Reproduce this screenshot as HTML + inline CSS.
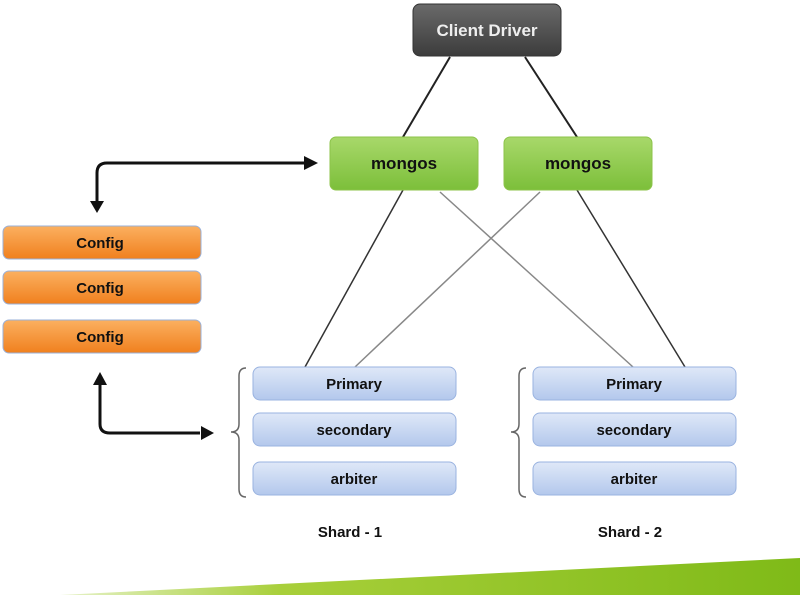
<!DOCTYPE html>
<html><head><meta charset="utf-8"><style>
html,body{margin:0;padding:0;background:#fff;width:800px;height:595px;overflow:hidden}
svg text{font-family:"Liberation Sans",sans-serif;font-weight:bold}
</style></head><body>
<svg width="800" height="595" viewBox="0 0 800 595" xmlns="http://www.w3.org/2000/svg">
<defs>
<linearGradient id="gd" x1="0" y1="0" x2="0" y2="1"><stop offset="0" stop-color="#6a6a6a"/><stop offset="1" stop-color="#3c3c3c"/></linearGradient>
<linearGradient id="gg" x1="0" y1="0" x2="0" y2="1"><stop offset="0" stop-color="#a8d86a"/><stop offset="1" stop-color="#7cbf3a"/></linearGradient>
<linearGradient id="go" x1="0" y1="0" x2="0" y2="1"><stop offset="0" stop-color="#fbb060"/><stop offset="1" stop-color="#f0801e"/></linearGradient>
<linearGradient id="gb" x1="0" y1="0" x2="0" y2="1"><stop offset="0" stop-color="#dfe8f8"/><stop offset="1" stop-color="#b3c8ec"/></linearGradient>
<linearGradient id="gband" x1="0" y1="0" x2="1" y2="0"><stop offset="0" stop-color="#e6f2c8"/><stop offset="0.3" stop-color="#a8cf3a"/><stop offset="1" stop-color="#7fba18"/></linearGradient>
</defs>
<polygon points="60,595 800,558 800,595" fill="url(#gband)"/>
<!-- lines -->
<g stroke-width="2">
<line x1="450" y1="57" x2="403" y2="137" stroke="#222"/>
<line x1="525" y1="57" x2="577" y2="137" stroke="#222"/>
<line x1="403" y1="190" x2="305" y2="367" stroke="#333" stroke-width="1.5"/>
<line x1="440" y1="192" x2="633" y2="367" stroke="#888" stroke-width="1.5"/>
<line x1="540" y1="192" x2="355" y2="367" stroke="#888" stroke-width="1.5"/>
<line x1="577" y1="190" x2="685" y2="367" stroke="#333" stroke-width="1.5"/>
</g>
<!-- arrows -->
<path d="M304,163 H107 Q97,163 97,173 V203" fill="none" stroke="#111" stroke-width="3"/>
<polygon points="318,163 304,156 304,170" fill="#111"/>
<polygon points="97,213 90,201 104,201" fill="#111"/>
<path d="M100,384 V424 Q100,433 110,433 H200" fill="none" stroke="#111" stroke-width="3"/>
<polygon points="100,372 93,385 107,385" fill="#111"/>
<polygon points="214,433 201,426 201,440" fill="#111"/>
<!-- client -->
<rect x="413" y="4" width="148" height="52" rx="7" fill="url(#gd)" stroke="#333"/>
<text x="487" y="36" font-size="17" fill="#eee" text-anchor="middle">Client Driver</text>
<!-- mongos -->
<rect x="330" y="137" width="148" height="53" rx="6" fill="url(#gg)" stroke="#8cc34a"/>
<text x="404" y="169" font-size="17" fill="#111" text-anchor="middle">mongos</text>
<rect x="504" y="137" width="148" height="53" rx="6" fill="url(#gg)" stroke="#8cc34a"/>
<text x="578" y="169" font-size="17" fill="#111" text-anchor="middle">mongos</text>
<!-- config -->
<g font-size="15" text-anchor="middle" fill="#111">
<rect x="3" y="226" width="198" height="33" rx="6" fill="url(#go)" stroke="#9ab0d8"/>
<text x="100" y="248">Config</text>
<rect x="3" y="271" width="198" height="33" rx="6" fill="url(#go)" stroke="#9ab0d8"/>
<text x="100" y="293">Config</text>
<rect x="3" y="320" width="198" height="33" rx="6" fill="url(#go)" stroke="#9ab0d8"/>
<text x="100" y="342">Config</text>
</g>
<!-- shards -->
<g font-size="15" text-anchor="middle" fill="#111">
<rect x="253" y="367" width="203" height="33" rx="7" fill="url(#gb)" stroke="#9ab3e0"/>
<text x="354" y="389">Primary</text>
<rect x="253" y="413" width="203" height="33" rx="7" fill="url(#gb)" stroke="#9ab3e0"/>
<text x="354" y="435">secondary</text>
<rect x="253" y="462" width="203" height="33" rx="7" fill="url(#gb)" stroke="#9ab3e0"/>
<text x="354" y="484">arbiter</text>
<rect x="533" y="367" width="203" height="33" rx="7" fill="url(#gb)" stroke="#9ab3e0"/>
<text x="634" y="389">Primary</text>
<rect x="533" y="413" width="203" height="33" rx="7" fill="url(#gb)" stroke="#9ab3e0"/>
<text x="634" y="435">secondary</text>
<rect x="533" y="462" width="203" height="33" rx="7" fill="url(#gb)" stroke="#9ab3e0"/>
<text x="634" y="484">arbiter</text>
<text x="350" y="537">Shard - 1</text>
<text x="630" y="537">Shard - 2</text>
</g>
<path d="M246,368 Q239,368 239,376 V424 Q239,432 231,432 Q239,432 239,440 V489 Q239,497 246,497" fill="none" stroke="#666" stroke-width="1.5"/>
<path d="M526,368 Q519,368 519,376 V424 Q519,432 511,432 Q519,432 519,440 V489 Q519,497 526,497" fill="none" stroke="#666" stroke-width="1.5"/>
</svg>
</body></html>
